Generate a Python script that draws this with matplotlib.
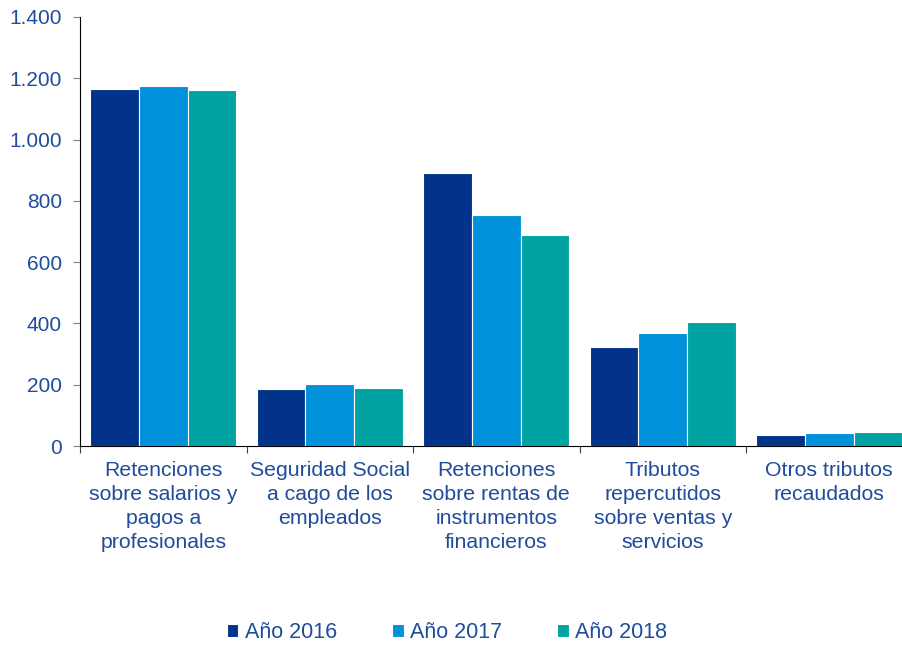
import numpy as np
import matplotlib
matplotlib.use("Agg")
import matplotlib.pyplot as plt
from matplotlib.ticker import FuncFormatter, FixedLocator

plt.rcParams['font.family'] = ['Liberation Sans', 'DejaVu Sans']

categories = ["Retenciones\nsobre salarios y\npagos a\nprofesionales",
              "Seguridad Social\na cago de los\nempleados",
              "Retenciones\nsobre rentas de\ninstrumentos\nfinancieros",
              "Tributos\nrepercutidos\nsobre ventas y\nservicios",
              "Otros tributos\nrecaudados"]
series_names = ["Año 2016", "Año 2017", "Año 2018"]
v2016 = [1165, 187, 891, 323, 36]
v2017 = [1175, 202, 754, 369, 42]
v2018 = [1162, 189, 689, 405, 45]
colors = ["#003389", "#0091DA", "#00A3A1"]
text_col = "#1F4C9C"

fig = plt.figure(figsize=(9.02, 6.46), dpi=100)
ax = fig.add_axes([80/902, 200/646, 832.5/902, 429/646])

x = np.arange(len(categories))
w = 0.293
for i, (vals, name) in enumerate(zip([v2016, v2017, v2018], series_names)):
    ax.bar(x + (i - 1) * w, vals, width=w, color=colors[i], edgecolor="white",
           linewidth=0.8, label=name)

ax.set_xlim(-0.5, 4.5)
ax.set_ylim(0, 1400)
ax.set_yticks(np.arange(0, 1401, 200))
ax.yaxis.set_major_formatter(FuncFormatter(lambda v, p: f"{int(v):,}".replace(",", ".")))

ax.xaxis.set_major_locator(FixedLocator(np.arange(-0.5, 5, 1)))
ax.set_xticklabels([])
for xi, lab in zip(x, categories):
    ax.text(xi, -50, lab, ha="center", va="top", fontsize=15.3, color=text_col,
            linespacing=1.33)

for s in ["top", "right"]:
    ax.spines[s].set_visible(False)
ax.spines["left"].set_color("black")
ax.spines["bottom"].set_color("black")
ax.tick_params(axis="y", length=5, color="#808080", labelsize=15, labelcolor=text_col, pad=8)
ax.tick_params(axis="x", length=5, color="#404040", direction="out")

fig.legend(loc="center", bbox_to_anchor=(447/902, 1 - 633/646), ncol=3, frameon=False,
           fontsize=15.5, labelcolor=text_col, handlelength=0.55, handleheight=0.55,
           handletextpad=0.3, columnspacing=2.55)

fig.savefig("out.png", dpi=100)
